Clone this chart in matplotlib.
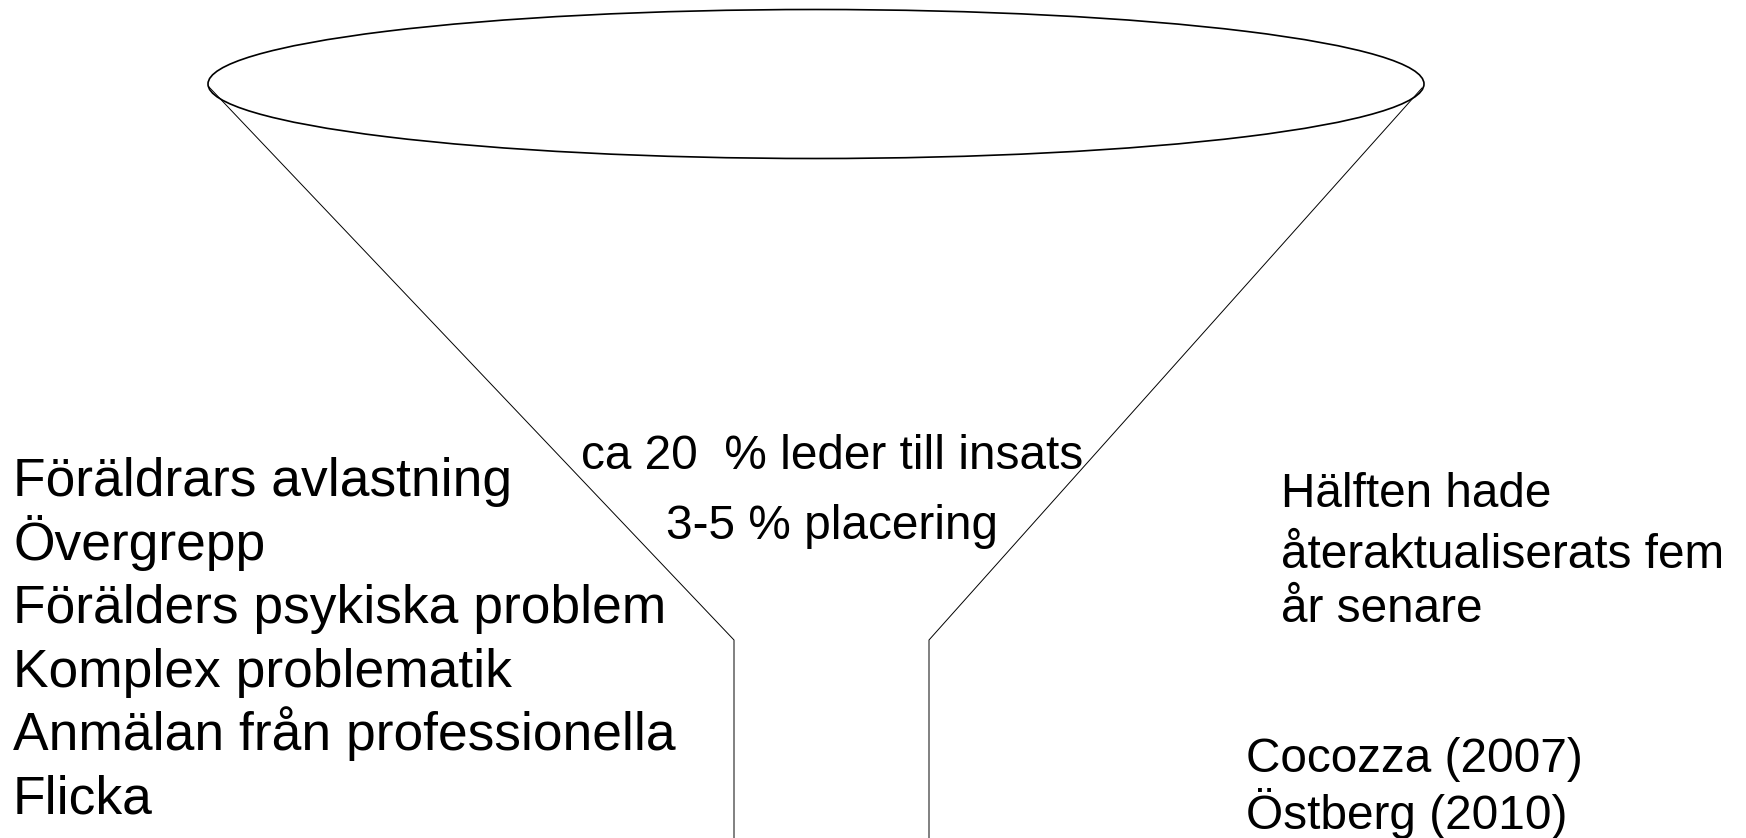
import matplotlib
matplotlib.use("Agg")
import matplotlib.pyplot as plt
from matplotlib.patches import Ellipse

plt.rcParams['font.family'] = ['Liberation Sans', 'DejaVu Sans']

# Text content
left_factors = [
    "Föräldrars avlastning",
    "Övergrepp",
    "Förälders psykiska problem",
    "Komplex problematik",
    "Anmälan från professionella",
    "Flicka",
]
center_lines = ["ca 20  % leder till insats", "3-5 % placering"]
right_note = ["Hälften hade", "återaktualiserats fem", "år senare"]
sources = ["Cocozza (2007)", "Östberg (2010)"]

W, H = 1746, 838
fig = plt.figure(figsize=(W / 100, H / 100), dpi=100)
ax = fig.add_axes([0, 0, 1, 1])
ax.set_xlim(0, W)
ax.set_ylim(H, 0)
ax.axis('off')

# Funnel rim (ellipse)
ax.add_patch(Ellipse((816, 84), 1216, 149, fill=False, edgecolor='black', lw=1.2))

# Funnel sides
ax.plot([209, 734, 734], [87, 640, 838], color='black', lw=0.7)
ax.plot([1422, 929, 929], [88, 640, 838], color='black', lw=0.7)

# Left list
for i, t in enumerate(left_factors):
    ax.text(13, 496 + i * 63.5, t, fontsize=38.4, ha='left', va='baseline')

# Center text
center_base = [469, 539]
for t, yb in zip(center_lines, center_base):
    ax.text(832, yb, t, fontsize=34.4, ha='center', va='baseline')

# Right note
right_base = [507, 568, 622]
for t, yb in zip(right_note, right_base):
    ax.text(1281, yb, t, fontsize=34.4, ha='left', va='baseline')

source_base = [772, 829]
for t, yb in zip(sources, source_base):
    ax.text(1246, yb, t, fontsize=34.4, ha='left', va='baseline')

fig.savefig("out.png", dpi=100)
